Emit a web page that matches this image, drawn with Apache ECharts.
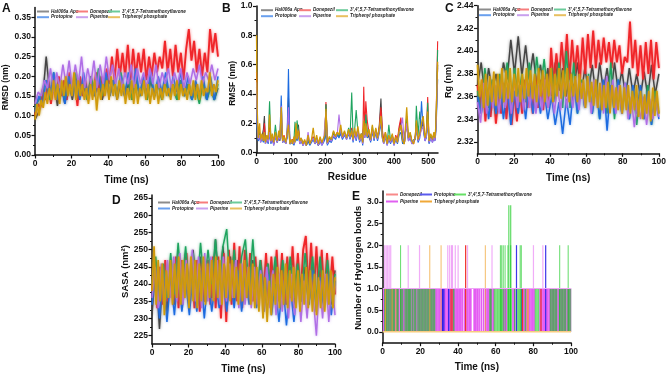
<!DOCTYPE html>
<html><head><meta charset="utf-8">
<style>html,body{margin:0;padding:0;background:#fff}#c{width:669px;height:378px;filter:blur(.3px)}</style>
<script src="https://cdn.jsdelivr.net/npm/echarts@6/dist/echarts.min.js"></script>
</head><body><div id="c"></div>
<script>
const seriesNames=['Hal006a Apo','Donepezil',"3',4',5,7-Tetramethoxyflavone",'Protopine','Piperine','Triphenyl phosphate'];

const rmsdApo=[.09,.11,.14,.25,.15,.20,.125,.18,.13,.19,
.14,.20,.15,.19,.14,.18,.15,.20,.14,.18,
.15,.19,.14,.19,.15,.18,.14,.20,.15,.18,
.14,.19,.15,.18,.14,.19,.15,.18,.14,.19,
.15,.18,.14,.18,.15,.19,.14,.18,.14,.17];
const rmsdDonepezil=[.10,.13,.12,.17,.14,.19,.13,.18,.14,.20,
.15,.19,.14,.21,.15,.19,.125,.20,.15,.19,
.14,.20,.15,.21,.16,.20,.15,.22,
.18,.25,.19,.27,.20,.26,.20,.28,.19,.27,
.20,.26,.21,.27,.19,.25,.20,.26,.21,.25,
.22,.29,.21,.27,.20,.28,.21,.26,.19,.27,
.32,.24,.29,.21,.27,.20,.26,.21,.32,.26,.31,.25];
const rmsdTetra=[.12,.14,.16,.19,.14,.21,.15,.19,.14,.20,
.15,.21,.15,.19,.14,.20,.16,.22,.15,.20,
.16,.19,.15,.21,.16,.19,.14,.20,.15,.19,
.14,.20,.15,.19,.14,.19,.15,.18,.14,.19,
.15,.18,.14,.17,.13,.18,.14,.17,.14,.18];
const rmsdProtopine=[.11,.15,.13,.19,.15,.21,.14,.18,.13,.20,
.15,.19,.14,.21,.15,.18,.15,.20,.16,.21,
.15,.19,.16,.20,.15,.21,.16,.22,.15,.20,
.16,.21,.15,.20,.16,.21,.15,.20,.16,.21,
.15,.20,.14,.19,.15,.20,.14,.20,.14,.20];
const rmsdPiperine=[.13,.16,.15,.19,.17,.22,.16,.21,.17,.23,
.18,.24,.17,.23,.18,.25,.17,.22,.18,.24,
.17,.23,.18,.25,.19,.23,.18,.22,.17,.21,
.18,.23,.17,.22,.18,.21,.17,.22,.18,.23,
.17,.21,.18,.22,.17,.21,.18,.22,.17,.21,
.18,.22,.19,.23,.18,.21,.19,.23,.19,.22];
const rmsdTriphenyl=[.09,.13,.10,.14,.12,.16,.13,.17,.14,.19,
.14,.18,.13,.19,.15,.20,.15,.18,.15,.21,
.14,.19,.15,.18,.14,.17,.13,.18,.14,.19,
.113,.17,.14,.18,.15,.19,.14,.20,.15,.18,
.14,.19,.15,.18,.13,.17,.14,.19,.13,.18,
.13,.17,.15,.19,.14,.18,.13,.17,.14,.18,
.13,.17,.14,.18,.15,.17,.14,.18,.15,.19,
.14,.18,.15,.17,.14,.18,.15,.19,.14,.18,
.14,.19,.15,.17,.16,.21,.15,.18,.16,.19];

const rmsfResidues=[0,2,5,9,12,16,20,23,26,30,34,38,42,46,50,55,60,65,68,72,
76,80,85,89,93,97,101,105,109,112,115,118,122,126,130,135,140,145,150,155,
160,165,170,175,180,185,190,195,199,202,206,212,218,224,230,235,240,245,250,256,
262,268,272,277,281,285,290,295,300,305,309,312,315,318,322,327,332,337,342,347,
352,357,362,366,370,375,380,385,390,395,400,405,410,415,420,425,430,437,442,447,
452,457,462,465,470,475,480,485,490,494,498,502,507,512,516,519,521,523,525,527];
const rmsfApo=[.50,.22,.09,.12,.08,.11,.16,.25,.08,.10,.07,.18,.07,.10,.06,.12,.07,.11,.08,.20,
.07,.10,.06,.12,.38,.07,.06,.08,.06,.07,.12,.17,.19,.07,.09,.05,.08,.05,.09,.06,
.06,.10,.06,.09,.05,.09,.06,.08,.10,.33,.06,.09,.08,.13,.10,.13,.11,.15,.10,.13,
.10,.14,.10,.13,.08,.15,.10,.16,.09,.12,.08,.20,.11,.26,.13,.14,.08,.15,.09,.15,
.10,.18,.37,.14,.07,.12,.06,.10,.08,.11,.06,.10,.08,.16,.22,.09,.06,.22,.09,.12,
.07,.06,.10,.20,.08,.12,.17,.20,.09,.12,.24,.07,.11,.08,.12,.09,.14,.24,.40,.60];
const rmsfDonepezil=[.55,.25,.10,.14,.09,.12,.10,.20,.08,.11,.07,.16,.08,.11,.06,.13,.08,.12,.09,.23,
.08,.12,.07,.12,.28,.07,.07,.09,.07,.08,.14,.12,.16,.07,.10,.06,.08,.05,.10,.06,
.07,.11,.07,.10,.05,.10,.06,.09,.11,.345,.07,.10,.09,.14,.11,.14,.12,.16,.11,.14,
.10,.15,.11,.17,.09,.14,.10,.16,.08,.13,.07,.45,.14,.35,.22,.14,.09,.16,.10,.16,
.10,.17,.31,.16,.08,.14,.06,.11,.07,.12,.06,.12,.09,.18,.24,.08,.06,.22,.10,.13,
.08,.06,.12,.19,.09,.12,.18,.22,.10,.13,.38,.08,.12,.09,.13,.10,.15,.30,.55,.76];
const rmsfTetra=[.45,.18,.09,.13,.08,.10,.08,.14,.07,.11,.09,.35,.08,.12,.07,.19,.08,.12,.09,.25,
.08,.10,.07,.11,.20,.06,.08,.06,.09,.21,.10,.22,.13,.07,.10,.06,.08,.05,.09,.06,
.07,.10,.07,.10,.05,.09,.06,.08,.10,.33,.06,.10,.08,.14,.10,.13,.11,.15,.11,.13,
.10,.17,.10,.41,.10,.14,.29,.14,.08,.13,.07,.19,.12,.26,.13,.15,.08,.18,.10,.15,
.09,.15,.22,.11,.07,.13,.06,.19,.08,.12,.06,.10,.07,.14,.18,.08,.06,.25,.10,.13,
.07,.06,.10,.32,.12,.28,.16,.18,.09,.12,.34,.07,.12,.08,.13,.09,.15,.28,.50,.70];
const rmsfProtopine=[.40,.15,.08,.11,.07,.10,.07,.12,.06,.09,.06,.13,.06,.10,.05,.11,.07,.10,.12,.39,
.07,.09,.06,.10,.57,.06,.05,.07,.05,.06,.10,.08,.12,.06,.08,.05,.07,.05,.08,.05,
.05,.09,.06,.08,.05,.08,.05,.07,.09,.25,.05,.08,.07,.11,.09,.12,.10,.13,.09,.12,
.09,.13,.09,.14,.07,.13,.08,.14,.07,.11,.05,.18,.10,.17,.10,.13,.07,.15,.08,.14,
.08,.13,.20,.10,.06,.11,.05,.09,.06,.10,.05,.09,.06,.12,.14,.06,.05,.19,.08,.10,
.06,.05,.09,.17,.07,.10,.35,.16,.08,.10,.20,.06,.10,.07,.10,.08,.12,.20,.35,.50];
const rmsfPiperine=[.48,.20,.09,.12,.07,.11,.08,.13,.06,.10,.07,.14,.07,.11,.05,.12,.07,.11,.09,.32,
.07,.10,.06,.11,.31,.06,.06,.08,.06,.07,.11,.10,.13,.06,.09,.05,.07,.05,.14,.06,
.06,.10,.06,.09,.05,.09,.05,.08,.09,.28,.06,.09,.08,.12,.10,.13,.26,.14,.10,.13,
.09,.14,.10,.15,.08,.14,.09,.15,.08,.11,.06,.16,.10,.18,.11,.14,.08,.16,.09,.15,
.09,.14,.24,.10,.06,.12,.05,.10,.07,.11,.05,.10,.07,.14,.17,.24,.06,.20,.08,.11,
.06,.05,.10,.18,.08,.11,.16,.18,.08,.11,.23,.07,.10,.07,.11,.08,.13,.22,.42,.58];
const rmsfTriphenyl=[.80,.30,.10,.20,.09,.13,.08,.14,.07,.12,.09,.26,.08,.13,.07,.14,.08,.15,.10,.31,
.08,.11,.07,.13,.19,.06,.09,.06,.11,.07,.20,.09,.15,.08,.10,.06,.09,.05,.12,.06,
.09,.17,.07,.12,.06,.11,.07,.10,.12,.30,.07,.11,.09,.15,.11,.14,.12,.19,.11,.15,
.10,.16,.11,.15,.09,.17,.11,.18,.09,.13,.07,.22,.12,.20,.11,.16,.09,.19,.10,.17,
.10,.16,.25,.11,.07,.14,.06,.12,.08,.13,.06,.11,.07,.15,.19,.08,.06,.31,.10,.14,
.08,.06,.11,.22,.09,.13,.20,.25,.10,.14,.28,.08,.13,.09,.14,.10,.16,.28,.45,.62];

const rgApo=[2.37,2.39,2.36,2.385,2.365,2.38,2.36,2.39,2.375,2.41,
2.38,2.413,2.378,2.405,2.375,2.398,2.37,2.388,2.365,2.385,
2.36,2.39,2.365,2.385,2.36,2.383,2.365,2.39,2.362,2.385,
2.365,2.388,2.36,2.39,2.365,2.385,2.36,2.39,2.365,2.383,
2.36,2.385,2.362,2.38,2.36,2.382,2.36,2.388,2.362,2.38];
const rgDonepezil=[2.37,2.35,2.375,2.338,2.365,2.342,2.37,2.336,2.36,2.345,
2.372,2.34,2.368,2.335,2.365,2.338,2.37,2.345,2.375,2.35,
2.372,2.345,2.378,2.35,2.375,2.348,2.38,2.35,
2.403,2.37,2.398,2.375,2.408,2.38,2.415,2.375,2.41,2.38,
2.405,2.375,2.412,2.38,2.415,2.385,2.418,2.385,2.41,2.388,
2.412,2.39,2.408,2.385,2.41,2.39,2.405,2.38,2.395,2.39,
2.426,2.385,2.41,2.378,2.405,2.375,2.408,2.38,2.41,2.375,2.408,2.385];
const rgTetra=[2.365,2.345,2.385,2.35,2.375,2.345,2.38,2.355,2.39,2.35,
2.385,2.36,2.38,2.355,2.39,2.36,2.395,2.365,2.393,2.36,
2.385,2.355,2.39,2.35,2.40,2.35,2.39,2.345,2.375,2.35,
2.38,2.345,2.375,2.34,2.372,2.345,2.39,2.34,2.375,2.345,
2.37,2.34,2.368,2.335,2.365,2.34,2.37,2.335,2.365,2.345];
const rgProtopine=[2.36,2.345,2.372,2.34,2.37,2.345,2.375,2.34,2.368,2.335,
2.365,2.345,2.37,2.34,2.372,2.345,2.37,2.345,2.365,2.34,
2.36,2.335,2.355,2.327,2.358,2.335,2.37,2.345,2.372,2.35,
2.375,2.345,2.37,2.34,2.375,2.33,2.37,2.345,2.375,2.345,
2.372,2.34,2.37,2.345,2.37,2.34,2.365,2.335,2.36,2.34];
const rgPiperine=[2.355,2.337,2.372,2.345,2.375,2.35,2.37,2.345,2.375,2.35,
2.372,2.345,2.375,2.35,2.37,2.348,2.375,2.35,2.372,2.345,
2.37,2.348,2.375,2.35,2.372,2.345,2.37,2.348,2.375,2.35,
2.372,2.35,2.375,2.348,2.372,2.35,2.378,2.345,2.375,2.35,
2.372,2.345,2.378,2.35,2.375,2.345,2.37,2.345,2.372,2.34,
2.36,2.333,2.358,2.34,2.36,2.335,2.358,2.34,2.355,2.342];
const rgTriphenyl=[2.388,2.36,2.375,2.35,2.38,2.352,2.378,2.355,2.382,2.352,
2.38,2.358,2.385,2.355,2.383,2.358,2.385,2.355,2.38,2.36,
2.385,2.355,2.38,2.358,2.385,2.36,2.383,2.358,2.38,2.355,
2.385,2.36,2.383,2.355,2.38,2.36,2.385,2.355,2.38,2.36,
2.385,2.358,2.383,2.36,2.385,2.355,2.38,2.36,2.378,2.355,
2.38,2.358,2.375,2.35,2.378,2.355,2.373,2.352,2.375,2.35,
2.372,2.348,2.37,2.35,2.373,2.345,2.37,2.35,2.368,2.348,
2.37,2.345,2.368,2.348,2.37,2.345,2.365,2.348,2.37,2.342,
2.365,2.34,2.362,2.345,2.365,2.338,2.368,2.343,2.365,2.345];

const sasaApo=[231,246,227,244,232,246,234,248,236,249,
235,250,236,248,235,247,236,253,238,251,
236,248,235,247,234,246,236,247,234,245,
236,246,235,245,236,246,234,245,233,246,
235,245,234,246,235,244,234,245,234,244];
const sasaDonepezil=[238,246,233,245,234,247,235,246,234,248,
233,247,236,249,235,248,233,247,232,246,
235,247,234,248,233,248,230,249,
229,250,234,252,235,251,233,250,236,249,
235,248,234,247,236,249,235,248,237,250,
235,249,234,248,236,251,237,249,236,250,
254,238,252,237,251,236,250,235,249,236,248,237];
const sasaTetra=[240,248,235,246,236,249,237,252,238,251,
237,249,238,252,239,250,240,253,238,251,
256,238,250,237,248,253,238,253,237,247,
236,246,237,248,236,247,237,248,236,246,
237,249,236,248,235,248,236,247,235,243];
const sasaProtopine=[234,244,230,243,229,242,231,244,232,241,
231,243,232,244,230,242,232,241,233,243,
232,242,233,244,232,243,234,245,233,244,
232,243,231,240,229,241,228,240,229,241,
235,243,234,244,232,242,233,243,231,241];
const sasaPiperine=[236,245,233,246,234,247,236,248,235,249,
234,247,236,250,235,248,233,249,235,248,
236,247,234,248,235,246,236,247,233,246,
234,245,233,245,234,244,232,245,233,244,
231,243,232,244,230,243,231,242,229,241,
230,242,236,225,241,230,243,229,242,231];
const sasaTriphenyl=[238,251,234,247,235,246,231,244,236,247,
234,246,236,248,234,247,236,246,233,248,
235,247,233,246,235,248,234,246,236,247,
235,248,236,247,234,246,236,248,235,247,
236,245,234,246,235,247,236,245,234,246,
233,245,232,243,230,242,229,241,231,243,
234,245,233,244,234,246,233,244,235,245,
233,244,232,243,234,245,233,244,232,243,
231,242,233,244,232,243,234,244,233,242];

const hbPiperineOne=[.4,1.2,2,2.8,3.6,4.4,5.2,6,6.8,7.6,8.4,9.2,10,10.8,11.6,12.4,13.2,14,14.8,15.6,16.4,17.2,18,18.8,19.6,20.4,21.2,22,22.8,23.6,24.4,25.2,26,26.8,27.6,28.4,29.2,30,30.8,31.6,32.4,33.2,34,34.8,35.6,36.4,37.2,38,38.8,39.6,40.4,41.2,42,43.2,44,45,45.8,46.6,48.4,49.2,50,51,52.2,53.4,54.6,55.4,56.2,57,57.8,58.6,64,64.8,65.6,69,69.8,74.6,75.4,76.2,77,77.8,78.6,79.4,80.2,83.4,84.2,85,85.8,86.6,87.4,88.2,89,89.8,90.6,91.4,92.2,93,93.8,94.6,95.4,96.2,97,97.8,98.6,99.4,100];
const hbPiperineTwo=[1,1.8,2.6,3.4,4.2,13.5,19.5,34.5,35.5,36.5,37,38.5,40,45,58,80,85];
const hbTetraOne=[1,1.6,2.2,3,3.8,4.6,5.4,6,7.4,8,9.6,10.4,11.8,12.6,13.4,14,14.6,15.6,16.6,17.4,18.6,19.4,20.2,21,21.8,22.6,23.4,24.2,25,25.8,26.6,27.4,37.6,56.8,57.4,59.2,60,60.8,61.6,62.4,63.2,66.6,67.4,68,70,71.2,72,72.8,73.6,75.6,81,81.8,82.6,89,89.8,90.6,91.4,92.2,93.8,94.6,95.4,96.2,97,98.4,99.2,100];
const hbTetraTwo=[9.5,62.5,63.2,64,65,66.5,68,73,73.6,94,98.5];
const hbTetraThree=[67,68];
const hbProtopineOne=[31.7,32.4,35,74];
const hbProtopineTwo=[71,86.5];
const hbDonepezilOne=[36.2,36.8,74.2,84];
const hbDonepezilTwo=[44];
const hbTriphenylOne=[1.5,5,7,76.8,77.3];
const hbTriphenylTwo=[25,31,54.5];
const hbBaseline=[[0,0],[100,0]];
const hbOneLine=[[0,1],[100,1]];

const timeTicks=[0,20,40,60,80,100], timeMinor=[10,30,50,70,90];
const rmsdTicks=[0,.05,.1,.15,.2,.25,.3,.35], rmsdMinor=[.025,.075,.125,.175,.225,.275,.325];
const residueTicks=[0,100,200,300,400,500], residueMinor=[50,150,250,350,450];
const rmsfTicks=[0,.2,.4,.6,.8,1], rmsfMinor=[.1,.3,.5,.7,.9];
const rgTicks=[2.32,2.34,2.36,2.38,2.40,2.42,2.44], rgMinor=[2.33,2.35,2.37,2.39,2.41,2.43];
const sasaTicks=[225,230,235,240,245,250,255,260,265], sasaMinor=[227.5,232.5,237.5,242.5,247.5,252.5,257.5,262.5];
const hbTicks=[0,.5,1,1.5,2,2.5,3], hbMinor=[.25,.75,1.25,1.75,2.25,2.75];

const FONT='"Liberation Sans",Arial,sans-serif';
const colors=['#454545','#f0262a','#1fa45f','#1c6be0','#b06fe6','#d09a0a'];
const legendColors=['#8c8c8c','#f77c7c','#6ccb9a','#6aa0ee','#c9a0ee','#e8c060'];
const panels=[
 {l:35,r:218,t:7.5,b:155,xmin:0,xmax:100,ymin:0,ymax:.375,xt:timeTicks,xm:timeMinor,yt:rmsdTicks,ym:rmsdMinor,yd:2,xn:'Time (ns)',yn:'RMSD (nm)',gap:21,fs:8.5,pad:12},
 {l:256.5,r:438,t:6,b:152.7,xmin:0,xmax:528,ymin:0,ymax:1,xt:residueTicks,xm:residueMinor,yt:rmsfTicks,ym:rmsfMinor,yd:1,xn:'Residue',yn:'RMSF (nm)',gap:17,fs:8.5,pad:8},
 {l:477.5,r:660.7,t:5.7,b:153.3,xmin:0,xmax:100,ymin:2.31,ymax:2.44,xt:timeTicks,xm:timeMinor,yt:rgTicks,ym:rgMinor,yd:2,xn:'Time (ns)',yn:'Rg (nm)',gap:21,fs:9,pad:3},
 {l:152,r:335,t:195,b:344,xmin:0,xmax:100,ymin:222.6,ymax:265.9,xt:timeTicks,xm:timeMinor,yt:sasaTicks,ym:sasaMinor,yd:0,xn:'Time (ns)',yn:'SASA (nm²)',gap:19,fs:9.5,pad:4},
 {l:382.7,r:571,t:191,b:342.7,xmin:0,xmax:100,ymin:-.25,ymax:3.25,xt:timeTicks,xm:timeMinor,yt:hbTicks,ym:hbMinor,yd:1,xn:'Time (ns)',yn:'Number of Hydrogen bonds',gap:15.5,fs:9.4,pad:2}
];
const grid=[],xAxis=[],yAxis=[],series=[],legend=[];
panels.forEach(p=>{
 grid.push({left:p.l,top:p.t,width:p.r-p.l,height:p.b-p.t,containLabel:false});
 const gi=grid.length-1;
 const line={show:true,onZero:false,lineStyle:{color:'#111',width:1.5}};
 xAxis.push({type:'value',gridIndex:gi,position:'bottom',min:p.xmin,max:p.xmax,splitLine:{show:false},axisLine:line,
  axisTick:{show:true,length:3.5,customValues:p.xt,lineStyle:{color:'#111',width:1.2}},
  axisLabel:{customValues:p.xt,margin:4,fontFamily:FONT,fontWeight:'bold',fontSize:8.5,color:'#111'},
  name:p.xn,nameLocation:'middle',nameGap:20,nameTextStyle:{fontFamily:FONT,fontWeight:'bold',fontSize:10,color:'#111'}});
 xAxis.push({type:'value',gridIndex:gi,position:'bottom',min:p.xmin,max:p.xmax,splitLine:{show:false},axisLine:{show:false,onZero:false},
  axisLabel:{show:false},axisTick:{show:true,length:2,customValues:p.xm,lineStyle:{color:'#111',width:1}}});
 yAxis.push({type:'value',gridIndex:gi,position:'left',min:p.ymin,max:p.ymax,splitLine:{show:false},axisLine:line,
  axisTick:{show:true,length:3.5,customValues:p.yt,lineStyle:{color:'#111',width:1.2}},
  axisLabel:{customValues:p.yt,margin:4,fontFamily:FONT,fontWeight:'bold',fontSize:8.5,color:'#111',formatter:v=>v.toFixed(p.yd)},
  name:p.yn,nameLocation:'middle',nameGap:p.gap,nameTextStyle:{fontFamily:FONT,fontWeight:'bold',fontSize:p.fs,color:'#111',padding:[0,p.pad,0,0]}});
 yAxis.push({type:'value',gridIndex:gi,position:'left',min:p.ymin,max:p.ymax,splitLine:{show:false},axisLine:{show:false,onZero:false},
  axisLabel:{show:false},axisTick:{show:true,length:2,customValues:p.ym,lineStyle:{color:'#111',width:1}}});
});
function addLine(panel,idx,data,width,halo){
 series.push({type:'line',name:seriesNames[idx],xAxisIndex:panel*2,yAxisIndex:panel*2,data,showSymbol:false,symbol:'none',
  animation:false,silent:true,lineStyle:{color:colors[idx],width,join:'bevel',shadowBlur:halo,shadowColor:colors[idx]+'90'},itemStyle:{color:colors[idx]}});
}
const overTime=vals=>vals.map((v,i)=>[i*100/(vals.length-1),v]);
[[rmsdApo,rmsdDonepezil,rmsdTetra,rmsdProtopine,rmsdPiperine,rmsdTriphenyl],
 null,
 [rgApo,rgDonepezil,rgTetra,rgProtopine,rgPiperine,rgTriphenyl],
 [sasaApo,sasaDonepezil,sasaTetra,sasaProtopine,sasaPiperine,sasaTriphenyl]].forEach((set,panel)=>{
 if(set) set.forEach((vals,i)=>addLine(panel,i,overTime(vals),i===1?1.9:i===5?1.7:1.5,3));
});
[rmsfApo,rmsfDonepezil,rmsfTetra,rmsfProtopine,rmsfPiperine,rmsfTriphenyl].forEach((vals,i)=>
 addLine(1,i,vals.map((v,k)=>[rmsfResidues[k],v]),i===5?1.3:1.1,0));

function hb(name,color,times,value,width,opacity){
 series.push({type:'bar',name,xAxisIndex:8,yAxisIndex:8,barWidth:width,barGap:'-100%',animation:false,silent:true,
  itemStyle:{color,opacity},data:times.map(t=>[t,value])});
}
const hbColors={don:'#f03028',pro:'#2a20e8',tet:'#10c818',pip:'#e45cf2',tri:'#f0a028'};
hb('Piperine',hbColors.pip,hbPiperineTwo,2,1.2,.5);
hb('Piperine',hbColors.pip,hbPiperineOne,1,1.7,1);
hb(seriesNames[2],hbColors.tet,hbTetraTwo,2,1,.65);
hb(seriesNames[2],hbColors.tet,hbTetraThree,2.92,.9,.8);
hb(seriesNames[2],hbColors.tet,hbTetraOne,1,1.5,.62);
hb('Protopine',hbColors.pro,hbProtopineOne,1,1.3,1);
hb('Protopine',hbColors.pro,hbProtopineTwo,2,1.2,.9);
hb('Donepezil',hbColors.don,hbDonepezilOne,1,1.2,1);
hb('Donepezil',hbColors.don,hbDonepezilTwo,2,1.2,1);
hb('Triphenyl phosphate',hbColors.tri,hbTriphenylOne,1,.9,.8);
hb('Triphenyl phosphate',hbColors.tri,hbTriphenylTwo,2,.9,.7);
series.push({type:'line',name:'Piperine',xAxisIndex:8,yAxisIndex:8,data:hbOneLine,showSymbol:false,symbol:'none',animation:false,silent:true,lineStyle:{color:'#efa4f6',width:1.2}});
series.push({type:'line',name:'Triphenyl phosphate',xAxisIndex:8,yAxisIndex:8,data:hbBaseline,showSymbol:false,symbol:'none',animation:false,silent:true,lineStyle:{color:'#f8cc80',width:1.5}});

function leg(name,left,cy,color,w){
 legend.push({left,top:cy-3,padding:0,itemWidth:w,itemHeight:2,selectedMode:false,orient:'horizontal',
  textStyle:{fontFamily:FONT,fontSize:4.6,fontWeight:'bold',fontStyle:'italic',color:'#222',padding:[0,0,0,-3]},
  data:[{name,icon:'rect',itemStyle:{color},lineStyle:{color}}]});
}
[[[37,76,108],[12,17.7]],[[261,299,336],[10.7,16.7]],[[479,517,554],[10,15.7]],[[158,196,230],[203,209]]].forEach(([xs,ys])=>{
 seriesNames.forEach((n,i)=>leg(n,xs[i%3],ys[i<3?0:1],legendColors[i],12));
});
leg('Donepezil',386,195,'#f88a8a',12);
leg('Protopine',420,195,'#5a5aee',12);
leg(seriesNames[2],454,195,'#66e066',12);
leg('Piperine',386,202,'#e060f0',12);
leg('Triphenyl phosphate',420,202,'#f0a838',12);

const letters=[['A',2,3],['B',222,3],['C',445,3],['D',112,195],['E',352,191]];
const graphic=letters.map(([text,x,y])=>({type:'text',left:x,top:y,style:{text,fontFamily:FONT,fontWeight:'bold',fontSize:12,fill:'#111'}}));

const chart=echarts.init(document.getElementById('c'),null,{renderer:'canvas'});
chart.setOption({animation:false,backgroundColor:'#fff',grid,xAxis,yAxis,series,legend,graphic,tooltip:{show:false}});
</script></body></html>
